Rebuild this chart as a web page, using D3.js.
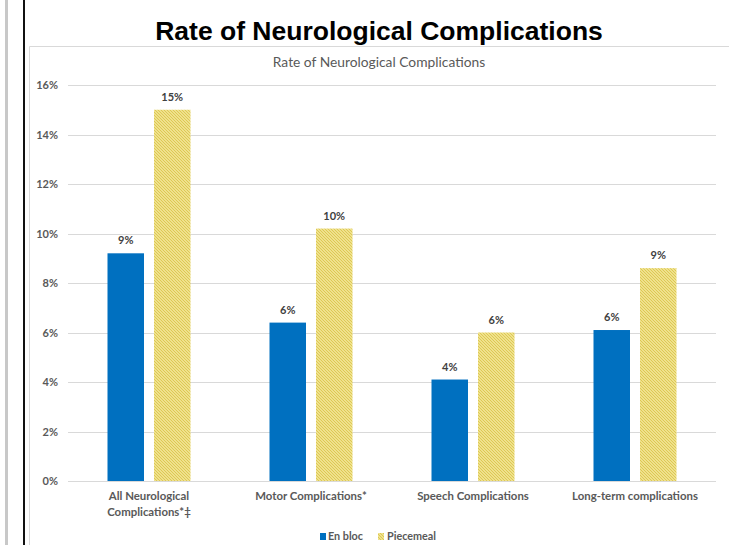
<!DOCTYPE html>
<html><head><meta charset="utf-8">
<script src="https://cdn.jsdelivr.net/npm/d3@7"></script>
<style>
html,body{margin:0;padding:0;background:#fff;}
svg{display:block;}
</style></head>
<body>
<svg id="c" width="729" height="545"></svg>
<script>
const title = "Rate of Neurological Complications";
const subtitle = "Rate of Neurological Complications";
const categories = [["All Neurological","Complications*\u2021"],["Motor Complications*"],["Speech Complications"],["Long-term complications"]];
const seriesNames = ["En bloc","Piecemeal"];
const enBloc = [9.2, 6.4, 4.1, 6.1];
const piecemeal = [15.0, 10.2, 6.0, 8.6];
const yTicks = [0,2,4,6,8,10,12,14,16];

const svg = d3.select("#c");
const W = 729, H = 545;
const defs = svg.append("defs");
const pat = defs.append("pattern").attr("id","hatch").attr("patternUnits","userSpaceOnUse")
  .attr("width",3).attr("height",3);
pat.append("rect").attr("width",3).attr("height",3).attr("fill","#f7eda4");
pat.append("path").attr("d","M-1,-1 L4,4 M-1,2 L1,4 M2,-1 L4,1").attr("stroke","#dcc650").attr("stroke-width",1.1);

// page decorations
svg.append("rect").attr("x",5).attr("y",0).attr("width",3).attr("height",H).attr("fill","#c8c8c8");
svg.append("rect").attr("x",23).attr("y",0).attr("width",2).attr("height",H).attr("fill","#111");
svg.append("path").attr("d",`M29.5,${H} V46.5 H${W}`).attr("fill","none").attr("stroke","#d9d9d9");

svg.append("text").attr("x",379).attr("y",40).attr("text-anchor","middle")
  .attr("font-family","Liberation Sans, Arial, sans-serif").attr("font-weight","bold").attr("font-size",26.5)
  .attr("fill","#000").text(title);
svg.append("text").attr("x",379).attr("y",67).attr("text-anchor","middle")
  .attr("font-family","Lato, sans-serif").attr("font-size",13.8).attr("fill","#595959").text(subtitle);

const x0 = d3.scaleBand().domain(d3.range(categories.length)).range([68,716]);
const y = d3.scaleLinear().domain([0,16]).range([481,85]);

const gridG = svg.append("g");
yTicks.forEach(t=>{
  gridG.append("line").attr("x1",68).attr("x2",716).attr("y1",Math.round(y(t))+0.5).attr("y2",Math.round(y(t))+0.5)
    .attr("stroke","#d9d9d9").attr("stroke-width",1);
});
const yAxis = d3.axisLeft(y).tickValues(yTicks).tickSize(0).tickPadding(0).tickFormat(d=>d+"%");
const ya = svg.append("g").attr("transform","translate(58,0)").call(yAxis);
ya.select(".domain").remove();
ya.selectAll("text").attr("font-family","Lato, sans-serif").attr("font-weight","bold").attr("font-size",11).attr("fill","#595959");

const barW = 36.5, gap = 10;
const series = [enBloc, piecemeal];
const fills = ["#0070c0","url(#hatch)"];
series.forEach((vals,si)=>{
  vals.forEach((v,i)=>{
    const cx = x0(i)+x0.bandwidth()/2;
    const bx = si===0 ? cx - gap/2 - barW : cx + gap/2;
    svg.append("rect").attr("x",bx).attr("y",y(v)).attr("width",barW).attr("height",y(0)-y(v)).attr("fill",fills[si]);
    svg.append("text").attr("x",bx+barW/2).attr("y",y(v)-9).attr("text-anchor","middle")
      .attr("font-family","Lato, sans-serif").attr("font-weight","bold").attr("font-size",11).attr("fill","#404040")
      .text(Math.round(v)+"%");
  });
});

categories.forEach((lines,i)=>{
  const cx = x0(i)+x0.bandwidth()/2;
  lines.forEach((ln,j)=>{
    svg.append("text").attr("x",cx).attr("y",500+j*16).attr("text-anchor","middle")
      .attr("font-family","Lato, sans-serif").attr("font-weight","bold").attr("font-size",11.4).attr("fill","#595959").text(ln);
  });
});

// legend
const lg = svg.append("g");
lg.append("rect").attr("x",320).attr("y",533).attr("width",6).attr("height",7).attr("fill","#0070c0");
lg.append("text").attr("x",328).attr("y",540).attr("font-family","Lato, sans-serif").attr("font-weight","bold").attr("font-size",10.8).attr("fill","#595959").text(seriesNames[0]);
lg.append("rect").attr("x",378).attr("y",533).attr("width",6).attr("height",7).attr("fill","url(#hatch)");
lg.append("text").attr("x",387).attr("y",540).attr("font-family","Lato, sans-serif").attr("font-weight","bold").attr("font-size",10.8).attr("fill","#595959").text(seriesNames[1]);
</script>
</body></html>
